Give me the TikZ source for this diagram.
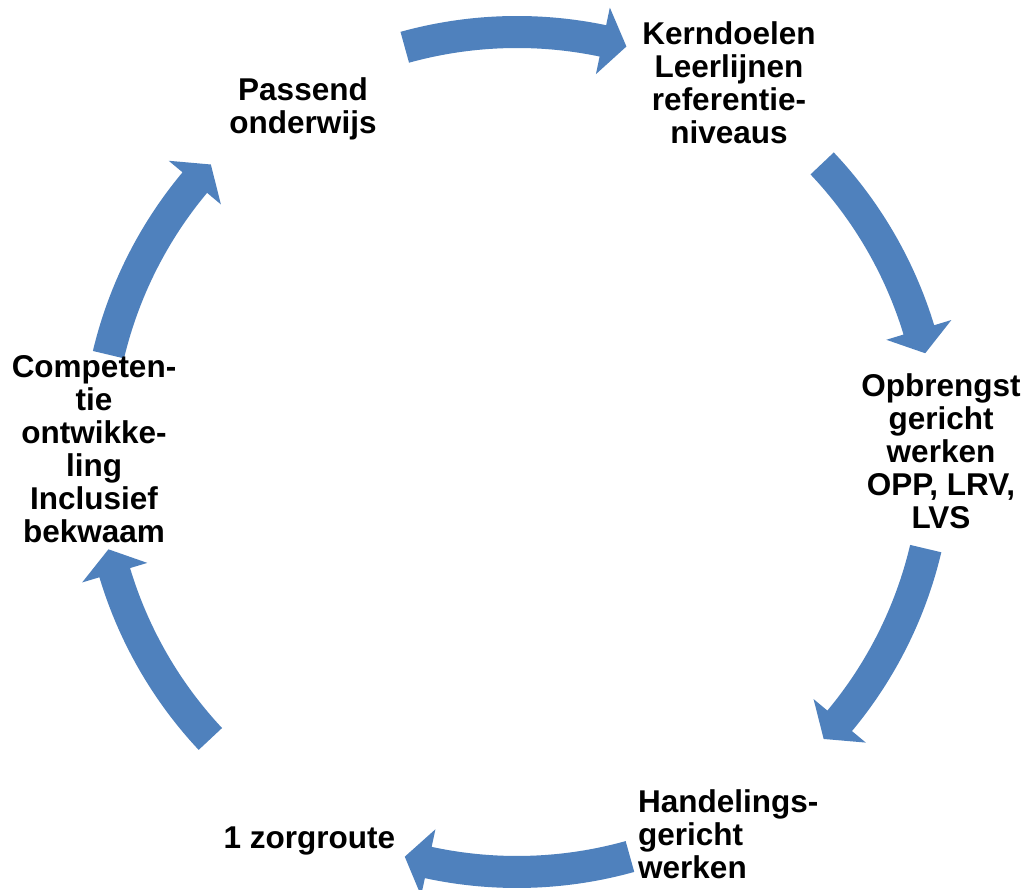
\documentclass[tikz,border=0pt]{standalone}
\usepackage{fontspec}
\setmainfont{Liberation Sans}
\definecolor{arrowblue}{RGB}{79,129,189}
\tikzset{
  lbl/.style={font=\fontsize{31.5}{33}\selectfont\bfseries, text=black, inner sep=0pt, align=center},
  cyc/.style={fill=arrowblue, draw=none}
}
\begin{document}
\begin{tikzpicture}[x=1pt,y=1pt]
\clip (0,0) rectangle (1024,890);
\fill[white] (0,0) rectangle (1024,890);
% cycle arrows (tail angle / tip angle, clockwise)
\begin{scope}[shift={(517,438)}]
\foreach \a/\b in {105.5/74.9, 43.4/13.6, -13.3/-43.1, -74.4/-105.5, -136.9/-166.6, 166.6/136.8}{
  \pgfmathsetmacro\ab{\b+3.3}
  \fill[cyc] (\a:436pt) arc[start angle=\a, end angle=\ab, radius=436pt]
     -- (\ab:454pt) -- (\b:420pt) -- (\ab:386pt) -- (\ab:404pt)
     arc[start angle=\ab, end angle=\a, radius=404pt] -- cycle;
}
\end{scope}
% labels
\node[lbl, anchor=north] (pas) at (303,813) {Passend\\onderwijs};
\node[lbl, anchor=north] (ker) at (729,869) {Kerndoelen\\Leerlijnen\\referentie-\\niveaus};
\node[lbl, anchor=north] (opb) at (941,517) {Opbrengst\\gericht\\werken\\OPP, LRV,\\LVS};
\node[lbl, anchor=north west, align=left] (han) at (638,101) {Handelings-\\gericht\\werken};
\node[lbl, anchor=north] (zor) at (309.5,63) {1 zorgroute};
\node[lbl, anchor=north] (com) at (94,535) {Competen-\\tie\\ontwikke-\\ling\\Inclusief\\bekwaam};
\end{tikzpicture}
\end{document}
